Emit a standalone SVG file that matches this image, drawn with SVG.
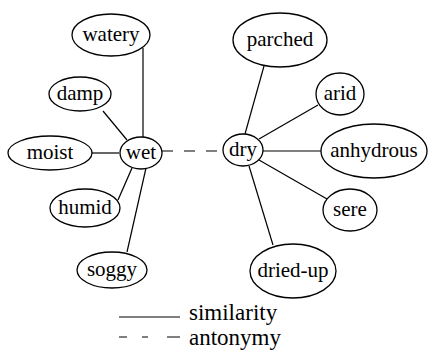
<svg xmlns="http://www.w3.org/2000/svg" width="428" height="352" viewBox="0 0 428 352" font-family="Liberation Serif, Times New Roman, serif">
<style>
.node ellipse{fill:#fff;stroke:#000;stroke-width:1.3}
.node text{font-size:21px;fill:#000;text-anchor:middle}
.edge{stroke:#000;stroke-width:1.2;fill:none}
.dash{stroke-dasharray:11 11}
.legend{font-size:23px;fill:#000}
</style>
<rect width="428" height="352" fill="#fff"/>
<g id="connectors">
<line class="edge" x1="143" y1="48" x2="143" y2="138"/>
<line class="edge" x1="103" y1="111" x2="127" y2="140"/>
<line class="edge" x1="92" y1="153" x2="119" y2="153"/>
<line class="edge" x1="132" y1="168" x2="118" y2="200"/>
<line class="edge" x1="146" y1="168" x2="127" y2="252"/>
<line class="edge dash" x1="162" y1="151" x2="223" y2="151"/>
<line class="edge" x1="264" y1="66" x2="245" y2="134"/>
<line class="edge" x1="318" y1="105" x2="259" y2="139"/>
<line class="edge" x1="263" y1="151" x2="321" y2="151"/>
<line class="edge" x1="259" y1="160" x2="327" y2="199"/>
<line class="edge" x1="249" y1="166" x2="273" y2="245"/>
</g>
<g id="n-watery" class="node"><ellipse cx="111" cy="35" rx="39" ry="21"/><text x="111" y="41">watery</text></g>
<g id="n-damp" class="node"><ellipse cx="80" cy="94" rx="31" ry="17"/><text x="80" y="100">damp</text></g>
<g id="n-moist" class="node"><ellipse cx="50" cy="153" rx="42" ry="17"/><text x="50" y="159">moist</text></g>
<g id="n-wet" class="node"><ellipse cx="141" cy="153" rx="21" ry="16"/><text x="141" y="159">wet</text></g>
<g id="n-humid" class="node"><ellipse cx="85" cy="208" rx="35" ry="19"/><text x="85" y="214">humid</text></g>
<g id="n-soggy" class="node"><ellipse cx="112" cy="270" rx="35" ry="18"/><text x="112" y="276">soggy</text></g>
<g id="n-parched" class="node"><ellipse cx="280" cy="40" rx="47" ry="27"/><text x="280" y="46">parched</text></g>
<g id="n-arid" class="node"><ellipse cx="340" cy="94" rx="24" ry="21"/><text x="340" y="100">arid</text></g>
<g id="n-dry" class="node"><ellipse cx="243" cy="150" rx="20" ry="16"/><text x="243" y="156">dry</text></g>
<g id="n-anhydrous" class="node"><ellipse cx="374" cy="151" rx="53" ry="27"/><text x="374" y="157">anhydrous</text></g>
<g id="n-sere" class="node"><ellipse cx="350" cy="210" rx="27" ry="21"/><text x="350" y="216">sere</text></g>
<g id="n-dried-up" class="node"><ellipse cx="293" cy="271" rx="43" ry="27"/><text x="293" y="277">dried-up</text></g>
<g id="legend">
<line class="edge" x1="119" y1="317" x2="180" y2="317"/>
<text class="legend" x="189" y="320">similarity</text>
<line class="edge" x1="119" y1="337" x2="180" y2="337" stroke-dasharray="8 15 6 19 13"/>
<text class="legend" x="189" y="345">antonymy</text>
</g>
</svg>
